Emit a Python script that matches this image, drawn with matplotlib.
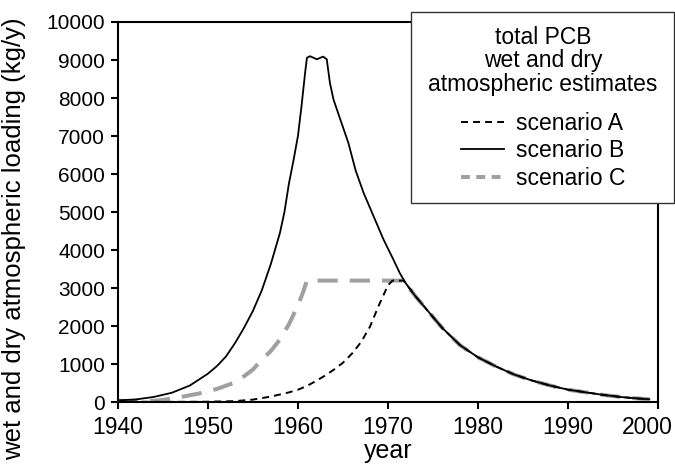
import numpy as np
import matplotlib
matplotlib.use("Agg")
import matplotlib.pyplot as plt
from matplotlib.patches import Rectangle
from matplotlib.lines import Line2D
from matplotlib.transforms import ScaledTranslation

plt.rcParams['font.family'] = ['Liberation Sans', 'DejaVu Sans']

# scenario B (solid): full loading curve
years_b = [1940, 1942, 1944, 1946, 1948, 1950, 1951, 1952, 1953, 1954, 1955,
           1956, 1957, 1958, 1958.5, 1959, 1959.5, 1960, 1960.4, 1960.8,
           1961, 1961.35, 1962.1, 1962.8, 1963.2, 1963.55, 1963.95, 1964.7,
           1965.6, 1966.4, 1967.3, 1968.4, 1969.5, 1970.6, 1971.3, 1972,
           1973, 1974, 1976, 1978, 1980, 1982, 1984, 1986, 1988, 1990, 1992,
           1994, 1996, 1998, 1999]
load_b = [50, 75, 140, 250, 440, 750, 950, 1200, 1550, 1950, 2400,
          2950, 3640, 4450, 5000, 5750, 6350, 7000, 7790, 8670,
          9060, 9100, 9020, 9090, 9020, 8400, 7960, 7440,
          6820, 6100, 5500, 4890, 4280, 3750, 3400, 3120,
          2800, 2520, 1960, 1500, 1180, 940, 730, 570, 440, 330, 260,
          190, 135, 95, 80]

# scenario A (black dashed): late rise, capped at 3200, then follows B
years_a = [1940, 1945, 1950, 1953, 1955, 1957, 1959, 1960, 1961, 1962, 1963,
           1964, 1965, 1966, 1967, 1968, 1969, 1970, 1970.5, 1971.7]
load_a = [20, 10, 15, 30, 70, 150, 260, 330, 430, 560, 700,
          860, 1040, 1280, 1580, 1990, 2560, 3080, 3200, 3200]

# scenario C (grey dashed): earlier rise, capped at 3200, then follows B
years_c = [1940, 1943, 1945, 1947, 1949, 1951, 1953, 1954, 1955, 1956, 1957,
           1958, 1959, 1960, 1960.5, 1961, 1971.7]
load_c = [40, 20, 60, 140, 230, 350, 520, 680, 860, 1120, 1350,
          1650, 2050, 2550, 2850, 3200, 3200]

tail_years = [y for y in years_b if y >= 1972]
tail_load = [v for y, v in zip(years_b, load_b) if y >= 1972]

fig = plt.figure(figsize=(6.75, 4.74), dpi=100)
ax = fig.add_axes([0.1744, 0.1513, 0.8009, 0.8023])

ax.plot(years_c + tail_years, load_c + tail_load, color='#a0a0a0', lw=2.9,
        dashes=(5, 3), label='scenario C')
ax.plot(years_a + tail_years, load_a + tail_load, color='black', lw=1.4,
        dashes=(3.6, 2.6), label='scenario A')
ax.plot(years_b, load_b, color='black', lw=1.3, label='scenario B')

ax.set_xlim(1940, 2000)
ax.set_ylim(0, 10000)
ax.set_xticks(np.arange(1940, 2001, 10))
ax.set_yticks(np.arange(0, 10001, 1000))
for s in ax.spines.values():
    s.set_linewidth(1.5)
ax.tick_params(direction='out', length=5, width=1.5, colors='black')
ax.tick_params(axis='y', pad=4, labelsize=15)
ax.tick_params(axis='x', pad=5, labelsize=16.5)
# last year label sits pulled in from the edge like the original
last = ax.get_xticklabels()[-1]
last.set_transform(last.get_transform() +
                   ScaledTranslation(-0.11, 0, fig.dpi_scale_trans))
ax.set_xlabel('year', fontsize=18, labelpad=0)
ax.set_ylabel('wet and dry atmospheric loading (kg/y)', fontsize=18.5)
ax.yaxis.set_label_coords(-0.17, 0.43)

# legend box sticking out past the right edge of the axes
box = Rectangle((0.6089, 0.5717), 0.3889, 0.403, transform=fig.transFigure,
                facecolor='white', edgecolor='#333333', lw=1.0, zorder=3)
fig.add_artist(box)

fig.text(543 / 675, 1 - 61 / 474,
         'total PCB\nwet and dry\natmospheric estimates',
         ha='center', va='center', multialignment='center', fontsize=16.5,
         linespacing=1.0, zorder=4)

handles = [Line2D([], [], color='black', lw=1.4, dashes=(3.6, 2.6)),
           Line2D([], [], color='black', lw=1.3),
           Line2D([], [], color='#a0a0a0', lw=2.9, dashes=(2.2, 1.6))]
labels = ['scenario A', 'scenario B', 'scenario C']
leg = fig.legend(handles, labels,
                 loc='center', bbox_to_anchor=(543 / 675, 1 - 151 / 474),
                 frameon=False, fontsize=16.5,
                 handlelength=1.9, handletextpad=0.5, labelspacing=0.2,
                 borderpad=0, borderaxespad=0)
leg.set_zorder(4)

fig.savefig('out.png', dpi=100)
